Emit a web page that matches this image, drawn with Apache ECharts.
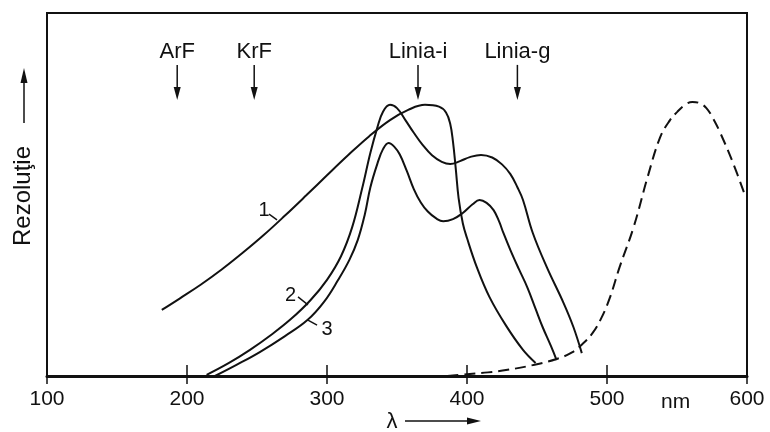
<!DOCTYPE html>
<html>
<head>
<meta charset="utf-8">
<script src="https://cdn.jsdelivr.net/npm/echarts@6/dist/echarts.min.js"></script>
<style>
html,body{margin:0;padding:0;background:#fff;}
#c{width:770px;height:432px;}
</style>
</head>
<body>
<div id="c"></div>
<script>
// ---- data (wavelength nm, relative resolution 0..100) ----
const xTicks = [100, 200, 300, 400, 500, 600];

const curve1Nm  = [182, 195, 210, 225, 240, 255, 270, 285, 300, 315, 330, 345, 358, 370, 380, 385, 388, 390, 392, 394, 397, 400, 407, 416, 428, 440, 449];
const curve1Val = [18.2, 21.4, 25.2, 29.4, 34.0, 38.9, 44.2, 49.7, 55.3, 60.8, 66.0, 70.5, 73.3, 74.7, 74.2, 72.6, 69.5, 64.5, 57.0, 49.0, 42.1, 38.0, 30.0, 21.8, 13.8, 7.2, 3.6];

const curve2Nm  = [214, 230, 245, 260, 274, 288, 300, 310, 318, 325, 331, 336, 340, 345, 350, 356, 362, 368, 375, 382, 388, 395, 402, 410, 418, 425, 431, 436, 440, 447, 457, 469, 476, 482];
const curve2Val = [0.3, 3.6, 7.2, 11.3, 15.6, 20.8, 26.5, 33.0, 41.0, 51.5, 61.5, 68.5, 72.8, 74.7, 73.8, 70.5, 67.0, 63.8, 60.8, 59.0, 58.4, 59.2, 60.3, 60.9, 60.2, 58.3, 55.6, 52.0, 48.5, 39.4, 30.0, 20.1, 13.5, 6.3];

const curve3Nm  = [220, 236, 252, 270, 286, 298, 308, 316, 322, 327, 331, 336, 340, 344, 348, 352, 357, 362, 367, 372, 378, 383, 390, 397, 404, 409, 414, 419, 423, 426, 431, 437, 443, 449, 454, 460, 464];
const curve3Val = [0, 3.2, 6.6, 11.0, 15.4, 20.5, 26.5, 32.0, 37.5, 44.5, 52.0, 58.5, 62.5, 64.2, 63.2, 61.0, 56.5, 51.5, 47.8, 45.3, 43.4, 42.6, 43.2, 44.9, 47.3, 48.5, 47.7, 45.7, 42.5, 39.4, 34.7, 29.5, 24.5, 18.5, 13.5, 8.2, 4.4];

const curve4Nm  = [386, 400, 415, 429, 447, 464, 475, 483, 490, 496, 502, 509, 519, 529, 538, 545, 550, 556, 561, 566, 571, 576, 581, 590, 599];
const curve4Val = [0, 0.5, 1.0, 1.7, 3.0, 4.7, 6.5, 9.0, 12.0, 16.0, 21.5, 30.0, 41.0, 54.8, 65.8, 70.5, 72.7, 74.8, 75.5, 75.2, 73.8, 70.8, 66.9, 58.7, 49.3];

// exposure wavelengths marked at the top
const lineNames = ['ArF', 'KrF', 'Linia-i', 'Linia-g'];
const lineNm    = [193, 248, 365, 436];

// curve number labels: text position and leader line (nm, value)
const curveLabels   = ['1', '2', '3'];
const curveLabelPos = [[255, 45.5], [274, 22.3], [300, 12.9]];
const curveLeaderA  = [[258.6, 44.6], [279.3, 21.8], [286.4, 15.4]];
const curveLeaderB  = [[264.3, 43.0], [286.4, 19.6], [292.9, 14.0]];

function pairs(xs, ys){ return xs.map((x,i)=>[x, ys[i]]); }

const FONT = 'Liberation Sans, Arial, sans-serif';
const INK = '#111';

const chart = echarts.init(document.getElementById('c'), null, {renderer:'canvas'});

const lineBase = {type:'line', smooth:0.4, symbol:'none', silent:true,
  lineStyle:{color:INK, width:2}};

chart.setOption({
  animation:false,
  backgroundColor:'#fff',
  grid:{left:47, right:23, top:13, bottom:56, show:true, borderColor:INK, borderWidth:2},
  xAxis:[
    {type:'value', min:100, max:600, interval:100, position:'bottom',
     axisLine:{show:true, lineStyle:{color:INK, width:3}},
     axisTick:{show:true, inside:true, length:11, lineStyle:{color:INK, width:1.5}},
     axisLabel:{color:INK, fontFamily:FONT, fontSize:21, margin:13,
       formatter:v=>xTicks.includes(v)?String(v):''},
     splitLine:{show:false}},
    {type:'value', min:100, max:600, interval:100, position:'top',
     axisLine:{show:true, lineStyle:{color:INK, width:2}},
     axisTick:{show:true, inside:true, length:8, lineStyle:{color:INK, width:1.5}},
     axisLabel:{show:false}, splitLine:{show:false}}
  ],
  yAxis:[
    {type:'value', min:0, max:100, axisLine:{show:true, lineStyle:{color:INK, width:2}},
     axisTick:{show:false}, axisLabel:{show:false}, splitLine:{show:false}},
    {type:'value', min:0, max:100, position:'right', axisLine:{show:true, lineStyle:{color:INK, width:2}},
     axisTick:{show:false}, axisLabel:{show:false}, splitLine:{show:false}}
  ],
  series:[
    Object.assign({}, lineBase, {name:'1', data:pairs(curve1Nm, curve1Val)}),
    Object.assign({}, lineBase, {name:'2', data:pairs(curve2Nm, curve2Val)}),
    Object.assign({}, lineBase, {name:'3', data:pairs(curve3Nm, curve3Val)}),
    Object.assign({}, lineBase, {name:'4', data:pairs(curve4Nm, curve4Val),
      lineStyle:{color:INK, width:2, type:[11,6]}})
  ]
});

// ---- annotations positioned through the chart's own scales ----
const px = (nm, v) => chart.convertToPixel({xAxisIndex:0, yAxisIndex:0}, [nm, v]);
const g = [];

function arrowDown(x, y1, y2){
  g.push({type:'line', shape:{x1:x, y1:y1, x2:x, y2:y2-10}, style:{stroke:INK, lineWidth:1.5}});
  g.push({type:'polygon', shape:{points:[[x-3.5,y2-13],[x+3.5,y2-13],[x,y2]]}, style:{fill:INK}});
}

lineNames.forEach((name, i) => {
  const top = px(lineNm[i], 89.3);
  g.push({type:'text', x:top[0], y:top[1], style:{text:name, fill:INK, font:'22px '+FONT,
    textAlign:'center', textVerticalAlign:'middle'}});
  const a = px(lineNm[i], 85.7), b = px(lineNm[i], 76.0);
  arrowDown(a[0], a[1], b[1]);
});

curveLabels.forEach((t, i) => {
  const p = px(curveLabelPos[i][0], curveLabelPos[i][1]);
  g.push({type:'text', x:p[0], y:p[1], style:{text:t, fill:INK, font:'20px '+FONT,
    textAlign:'center', textVerticalAlign:'middle'}});
  const a = px(curveLeaderA[i][0], curveLeaderA[i][1]), b = px(curveLeaderB[i][0], curveLeaderB[i][1]);
  g.push({type:'line', shape:{x1:a[0], y1:a[1], x2:b[0], y2:b[1]}, style:{stroke:INK, lineWidth:1.4}});
});

// "nm" unit between 500 and 600
const nmPos = px(549, 0);
g.push({type:'text', x:nmPos[0], y:nmPos[1]+26, style:{text:'nm', fill:INK, font:'21px '+FONT,
  textAlign:'center', textVerticalAlign:'middle'}});

// x axis title: lambda with arrow
g.push({type:'text', x:392, y:422, style:{text:'λ', fill:INK, font:'22px '+FONT,
  textAlign:'center', textVerticalAlign:'middle'}});
g.push({type:'line', shape:{x1:405, y1:421, x2:470, y2:421}, style:{stroke:INK, lineWidth:1.5}});
g.push({type:'polygon', shape:{points:[[467,417.5],[467,424.5],[481,421]]}, style:{fill:INK}});

// y axis title: Rezoluţie with upward arrow
g.push({type:'text', x:23, y:196, rotation:Math.PI/2, style:{text:'Rezoluţie', fill:INK,
  font:'24px '+FONT, textAlign:'center', textVerticalAlign:'middle'}});
g.push({type:'line', shape:{x1:24, y1:123, x2:24, y2:80}, style:{stroke:INK, lineWidth:1.5}});
g.push({type:'polygon', shape:{points:[[20.5,83],[27.5,83],[24,68]]}, style:{fill:INK}});

chart.setOption({graphic:{elements:g}});
</script>
</body>
</html>
